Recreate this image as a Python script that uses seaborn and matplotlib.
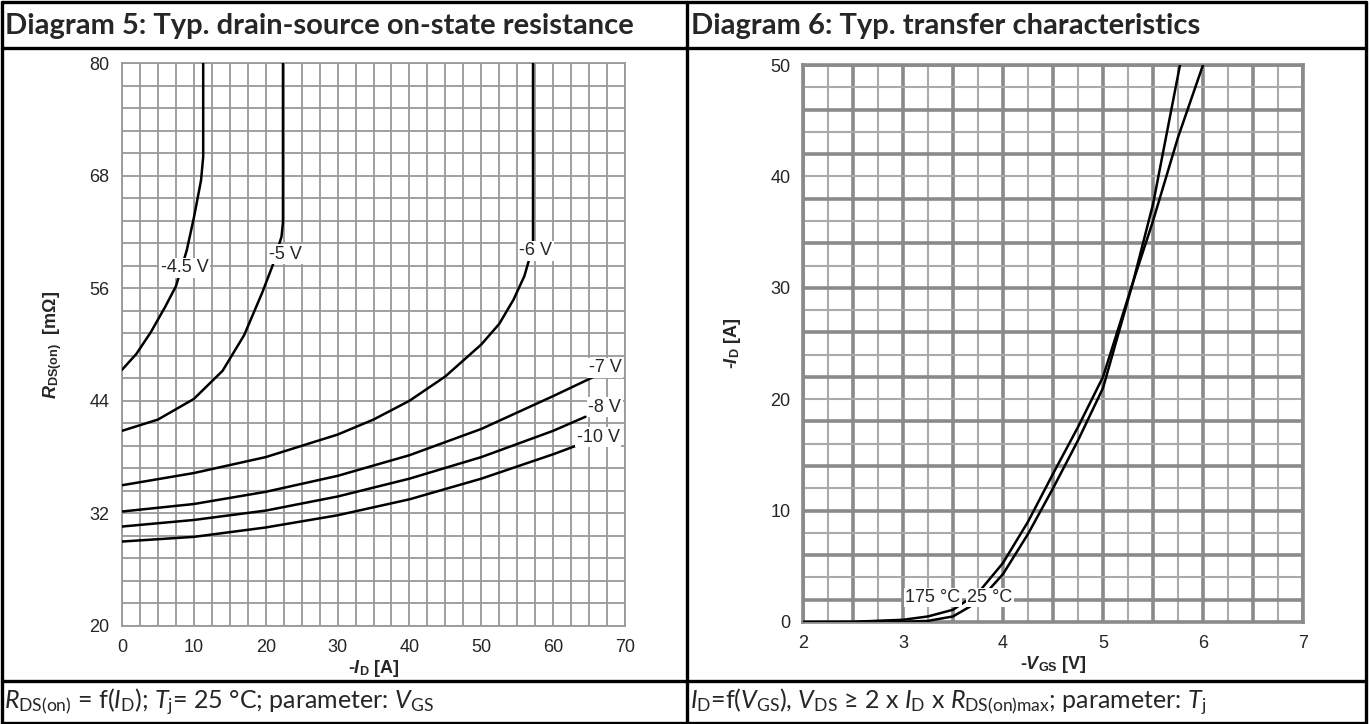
import numpy as np
import pandas as pd
import seaborn as sns
from matplotlib import pyplot as plt
from matplotlib.lines import Line2D

# Diagram 5: R_DS(on) vs -I_D, one curve per V_GS
id_45 = [0, 2, 4, 6, 7.5, 9, 10, 11, 11.3, 11.3]
r_45 = [47.3, 49.0, 51.3, 54.0, 56.2, 60.0, 63.5, 67.5, 70.0, 80.0]
id_5 = [0, 5, 10, 14, 17, 19.5, 21, 22.2, 22.4, 22.4]
r_5 = [40.8, 42.0, 44.2, 47.2, 51.0, 55.5, 58.5, 61.5, 63.0, 80.0]
id_6 = [0, 10, 20, 30, 35, 40, 45, 50, 52.5, 54.5, 56, 57.2, 57.2]
r_6 = [35.0, 36.3, 38.0, 40.4, 42.0, 44.0, 46.6, 50.0, 52.2, 54.8, 57.3, 60.5, 80.0]
id_7 = [0, 10, 20, 30, 40, 50, 60, 65.5]
r_7 = [32.2, 33.0, 34.3, 36.0, 38.2, 41.0, 44.5, 46.5]
id_8 = [0, 10, 20, 30, 40, 50, 60, 64.5]
r_8 = [30.6, 31.3, 32.3, 33.8, 35.7, 38.0, 40.8, 42.3]
id_10 = [0, 10, 20, 30, 40, 50, 60, 63.5]
r_10 = [29.0, 29.5, 30.5, 31.8, 33.5, 35.7, 38.3, 39.3]
vgs_labels = ['-4.5 V', '-5 V', '-6 V', '-7 V', '-8 V', '-10 V']
vgs_label_pos = [(8.7, 58.2), (22.8, 59.6), (57.6, 60.0), (67.2, 47.5), (67.2, 43.3), (66.3, 40.1)]

# Diagram 6: -I_D vs -V_GS, one curve per T_j
vgs_175 = [2.0, 2.5, 3.0, 3.25, 3.5, 3.75, 4.0, 4.25, 4.5, 4.75, 5.0, 5.3, 5.5, 5.75, 6.0]
id_175 = [0.0, 0.02, 0.2, 0.5, 1.1, 2.6, 5.3, 9.0, 13.3, 17.5, 22.0, 30.5, 36.0, 43.5, 50.0]
vgs_25 = [2.0, 2.5, 3.0, 3.25, 3.5, 3.75, 4.0, 4.25, 4.5, 4.75, 5.0, 5.3, 5.5, 5.77]
id_25 = [0.0, 0.0, 0.02, 0.1, 0.5, 1.8, 4.3, 7.9, 12.0, 16.3, 21.0, 30.5, 37.5, 50.0]
tj_labels = ['175 °C', '25 °C']
tj_label_pos = [(3.3, 2.2), (3.87, 2.2)]

sns.set_style('white')
plt.rcParams['font.family'] = ['Liberation Sans', 'DejaVu Sans']
plt.rcParams['mathtext.fontset'] = 'custom'
plt.rcParams['mathtext.rm'] = 'Lato'
plt.rcParams['mathtext.it'] = 'Lato:italic'
plt.rcParams['mathtext.bf'] = 'Liberation Sans:bold'
plt.rcParams['mathtext.bfit'] = 'Liberation Sans:italic:bold'

W, H = 1370, 724
fig = plt.figure(figsize=(W / 100, H / 100), dpi=100)


def fx(px):
    return px / W


def fy(py):
    return 1 - py / H


grid_c = '#999999'
tick_fs = 13
lab_fs = 13

# ---- left diagram
ax1 = fig.add_axes([fx(122), fy(626), fx(625) - fx(122), fy(63) - fy(626)])
curves = [(id_45, r_45), (id_5, r_5), (id_6, r_6), (id_7, r_7), (id_8, r_8), (id_10, r_10)]
for lab, (xs, ys) in zip(vgs_labels, curves):
    df = pd.DataFrame({'id': xs, 'r': ys})
    sns.lineplot(data=df, x='id', y='r', ax=ax1, color='black', lw=1.8,
                 sort=False, estimator=None, zorder=3)
for lab, (x, y) in zip(vgs_labels, vgs_label_pos):
    ax1.text(x, y, lab, fontsize=13, ha='center', va='center', zorder=4, clip_on=False,
             bbox=dict(facecolor='white', edgecolor='none', pad=1.0))
ax1.set_xlim(0, 70)
ax1.set_ylim(20, 80)
ax1.set_xticks(np.arange(0, 71, 10))
ax1.set_yticks(np.arange(20, 81, 12))
ax1.set_xticks(np.arange(0, 70.1, 2.5), minor=True)
ax1.set_yticks(np.arange(20, 80.1, 2.4), minor=True)
ax1.grid(which='both', color=grid_c, lw=1.3)
ax1.tick_params(which='major', length=7, width=1.2, color=grid_c, labelsize=tick_fs, pad=2)
ax1.tick_params(which='minor', length=0)
for s in ax1.spines.values():
    s.set_color(grid_c)
    s.set_linewidth(1.3)
ax1.set_xlabel(r'-$\mathbfit{I}_{\mathbf{D}}$ [A]', fontsize=lab_fs, fontweight='bold', labelpad=2)
ax1.set_ylabel(r'$\mathbfit{R}_{\mathbf{DS(on)}}$  [mΩ]', fontsize=lab_fs, fontweight='bold', labelpad=18)

# ---- right diagram
ax2 = fig.add_axes([fx(803), fy(622), fx(1303) - fx(803), fy(65) - fy(622)])
curves2 = [(vgs_175, id_175), (vgs_25, id_25)]
for lab, (xs, ys) in zip(tj_labels, curves2):
    df = pd.DataFrame({'vgs': xs, 'id': ys})
    sns.lineplot(data=df, x='vgs', y='id', ax=ax2, color='black', lw=1.8,
                 sort=False, estimator=None, zorder=3)
for lab, (x, y) in zip(tj_labels, tj_label_pos):
    ax2.text(x, y, lab, fontsize=13, ha='center', va='center', zorder=4,
             bbox=dict(facecolor='white', edgecolor='none', pad=1.0))
ax2.set_xlim(2, 7)
ax2.set_ylim(0, 50)
ax2.set_xticks(np.arange(2, 8, 1))
ax2.set_yticks(np.arange(0, 51, 10))
for i, v in enumerate(np.arange(2, 7.01, 0.25)):
    thick = i % 2 == 0
    ax2.axvline(v, color='#8a8a8a' if thick else '#aaaaaa', lw=2.6 if thick else 1.5, zorder=1)
for i, v in enumerate(np.arange(50, -0.01, -2)):
    thick = i % 2 == 0
    ax2.axhline(v, color='#8a8a8a' if thick else '#aaaaaa', lw=2.6 if thick else 1.5, zorder=1)
ax2.tick_params(length=7, width=1.5, color='#8a8a8a', labelsize=tick_fs, pad=2)
for s in ax2.spines.values():
    s.set_color('#8a8a8a')
    s.set_linewidth(2.6)
ax2.set_xlabel(r'-$\mathbfit{V}_{\mathbf{GS}}$ [V]', fontsize=lab_fs, fontweight='bold', labelpad=2)
ax2.set_ylabel(r'-$\mathbfit{I}_{\mathbf{D}}$ [A]', fontsize=lab_fs, fontweight='bold', labelpad=20)

# ---- table frame
lw_o = 2.4
frame = [
    ([fx(1.5), fx(1366)], [fy(1.5), fy(1.5)]),
    ([fx(1.5), fx(1366)], [fy(722.5), fy(722.5)]),
    ([fx(1.5), fx(1.5)], [fy(1.5), fy(722.5)]),
    ([fx(1366), fx(1366)], [fy(1.5), fy(722.5)]),
    ([fx(1.5), fx(1366)], [fy(48), fy(48)]),
    ([fx(1.5), fx(1366)], [fy(681), fy(681)]),
    ([fx(687), fx(687)], [fy(1.5), fy(722.5)]),
]
for xs, ys in frame:
    fig.add_artist(Line2D(xs, ys, color='black', lw=lw_o, transform=fig.transFigure))

fig.text(fx(5), fy(26), 'Diagram 5: Typ. drain-source on-state resistance', fontsize=21,
         fontweight='bold', family='Lato', va='center', ha='left')
fig.text(fx(691), fy(26), 'Diagram 6: Typ. transfer characteristics', fontsize=21,
         fontweight='bold', family='Lato', va='center', ha='left')
fig.text(fx(4), fy(702),
         r'$R_{\mathrm{DS(on)}}$ = f($I_{\mathrm{D}}$); $T_{\mathrm{j}}$= 25 °C; parameter: $V_{\mathrm{GS}}$',
         fontsize=18, family='Lato', va='center', ha='left')
fig.text(fx(690), fy(702),
         r'$I_{\mathrm{D}}$=f($V_{\mathrm{GS}}$), $V_{\mathrm{DS}}$ ≥ 2 x $I_{\mathrm{D}}$ x '
         r'$R_{\mathrm{DS(on)max}}$; parameter: $T_{\mathrm{j}}$',
         fontsize=18, family='Lato', va='center', ha='left')

fig.savefig('out.png', dpi=100)
